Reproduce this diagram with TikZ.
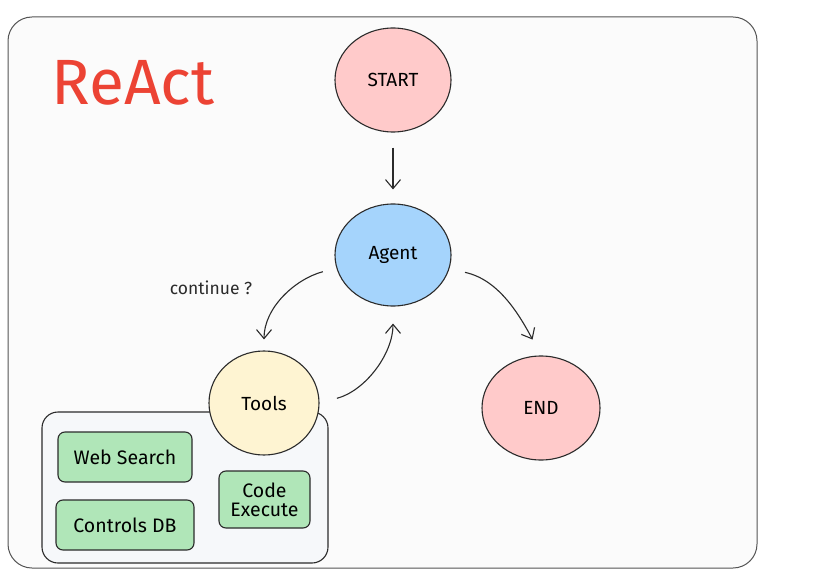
\documentclass[tikz,border=0pt]{standalone}
\usepackage{fontspec}
\setmainfont{Fira Sans}
\usetikzlibrary{arrows.meta,shapes.geometric}

\definecolor{inkgray}{HTML}{2B2B2B}
\definecolor{framegray}{HTML}{555555}
\definecolor{startred}{HTML}{FFCACA}
\definecolor{agentblue}{HTML}{A5D4FC}
\definecolor{toolyellow}{HTML}{FEF4D2}
\definecolor{toolgreen}{HTML}{B0E6B8}
\definecolor{titlered}{HTML}{EC4334}

\tikzset{
  bubble/.style={ellipse, draw=inkgray, line width=1.1pt, inner sep=0pt,
    font=\fontsize{19}{21}\selectfont},
  toolcard/.style={rectangle, rounded corners=7pt, draw=inkgray, line width=1.1pt,
    fill=toolgreen, inner sep=0pt, align=center, font=\fontsize{19.5}{22}\selectfont},
  flow/.style={draw=inkgray, line width=1.1pt, -{Straight Barb[length=9pt,width=15pt]}},
}

\begin{document}
\begin{tikzpicture}[x=1pt,y=1pt]
            \useasboundingbox (0,0) rectangle (826,571);
            \fill[white] (0,0) rectangle (826,571);

            % frame
            \draw[framegray, line width=1pt, fill={rgb,255:red,251;green,251;blue,251}, rounded corners=24pt]
                (8,3) rectangle (757,554);

            \node[text=titlered, font=\fontsize{64}{66}\selectfont] (title) at (133,488) {ReAct};

            % tool group
            \draw[inkgray, line width=1.1pt, fill={rgb,255:red,246;green,248;blue,250}, rounded corners=16pt]
                (42,8) rectangle (328,159);
            \node[toolcard, minimum width=134pt, minimum height=50pt] (web) at (125,114) {Web Search};
            \node[toolcard, minimum width=138pt, minimum height=50pt] (db) at (125,46) {Controls DB};
            \node[toolcard, minimum width=91pt, minimum height=57pt] (code) at (264.5,71.5) {Code\\[-3pt]Execute};

            % graph
            \node[bubble, fill=startred, minimum width=116pt, minimum height=104pt] (start) at (393,491) {START};
            \node[bubble, fill=agentblue, minimum width=116pt, minimum height=102pt] (agent) at (393,316) {Agent};
            \node[bubble, fill=toolyellow, minimum width=110pt, minimum height=104pt] (tools) at (264,168) {Tools};
            \node[bubble, fill=startred, minimum width=118pt, minimum height=104pt] (finish) at (541,163) {END};

            \node[font=\fontsize{17.5}{19}\selectfont, text=inkgray] (cont) at (211,283) {continue ?};

            \draw[flow, shorten <=15pt, shorten >=14pt] (start) -- (agent);
            \draw[flow, shorten <=14pt, shorten >=11pt] (agent.193) to[out=195, in=90] (tools.north);
            \draw[flow, shorten <=18pt, shorten >=17pt] (tools.east) to[out=15, in=-90] (agent.south);
            \draw[flow, shorten <=16pt, shorten >=18pt] (agent.-14) to[out=-12, in=118] (finish.north);
        \end{tikzpicture}
\end{document}
